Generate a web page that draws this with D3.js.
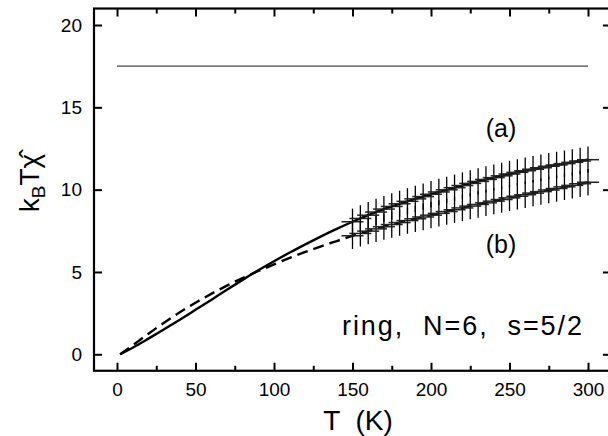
<!DOCTYPE html>
<html>
<head>
<meta charset="utf-8">
<script src="https://cdn.jsdelivr.net/npm/d3@7"></script>
<style>
  body { margin: 0; background: #fff; }
  text { font-family: "Liberation Sans", Arial, sans-serif; fill: #000; }
</style>
</head>
<body>
<script>
"use strict";

// curve temperatures and values
var curveT = [2, 10, 20, 30, 40, 50, 60, 70, 80, 90, 100, 110, 120, 130, 140, 150,
  160, 170, 180, 190, 200, 210, 220, 230, 240, 250, 260, 270, 280, 290, 300];
var solidVals = [0, 0.4, 0.95, 1.52, 2.1, 2.7, 3.3, 3.92, 4.52, 5.1, 5.65, 6.18, 6.68, 7.16, 7.62, 8.05,
  8.45, 8.82, 9.14, 9.44, 9.72, 9.99, 10.25, 10.5, 10.73, 10.95, 11.15, 11.33, 11.5, 11.66, 11.82];
var dashedVals = [0, 0.55, 1.25, 1.92, 2.55, 3.13, 3.67, 4.17, 4.63, 5.06, 5.46, 5.86, 6.22, 6.56, 6.88, 7.2,
  7.48, 7.75, 8.0, 8.23, 8.45, 8.67, 8.89, 9.1, 9.3, 9.5, 9.69, 9.88, 10.07, 10.26, 10.45];

// data points with error bars
var pointT = [150, 155, 160, 165, 170, 175, 180, 185, 190, 195, 200, 205, 210, 215, 220, 225,
  230, 235, 240, 245, 250, 255, 260, 265, 270, 275, 280, 285, 290, 295, 300];
var seriesA = [8.05, 8.25, 8.45, 8.64, 8.82, 8.98, 9.14, 9.29, 9.44, 9.58, 9.72, 9.86, 9.99, 10.12, 10.25, 10.38,
  10.5, 10.62, 10.73, 10.84, 10.95, 11.05, 11.15, 11.24, 11.33, 11.42, 11.5, 11.58, 11.66, 11.74, 11.82];
var seriesB = [7.2, 7.34, 7.48, 7.62, 7.75, 7.88, 8.0, 8.12, 8.23, 8.34, 8.45, 8.56, 8.67, 8.78, 8.89, 9.0,
  9.1, 9.2, 9.3, 9.4, 9.5, 9.6, 9.69, 9.79, 9.88, 9.98, 10.07, 10.17, 10.26, 10.36, 10.45];
var errY = 0.8;
var errT = 7;

var limitValue = 17.5;
var limitRange = [0, 300];

var xMajor = [0, 50, 100, 150, 200, 250, 300];
var xMinor = [25, 75, 125, 175, 225, 275];
var yMajor = [0, 5, 10, 15, 20];

function init() {
  var w = 608;
  var h = 436;

  var x = d3.scaleLinear().domain([0, 300]).range([117, 588]);
  var y = d3.scaleLinear().domain([0, 20]).range([354.3, 25]);

  var x0 = x(-14.65), x1 = x(314.6);
  var y0 = y(-1.0), y1 = y(21.0);

  var svg = d3.select("body")
    .append("svg")
    .attr("width", w)
    .attr("height", h);

  // high temperature limit
  svg.append("line")
    .attr("x1", x(limitRange[0]))
    .attr("x2", x(limitRange[1]))
    .attr("y1", y(limitValue))
    .attr("y2", y(limitValue))
    .attr("stroke", "#444")
    .attr("stroke-width", 1.2);

  var line = d3.line()
    .x(function (d) { return x(d[0]); })
    .y(function (d) { return y(d[1]); })
    .curve(d3.curveMonotoneX);

  svg.append("path")
    .datum(d3.zip(curveT, solidVals))
    .attr("d", line)
    .attr("fill", "none")
    .attr("stroke", "#000")
    .attr("stroke-width", 2.4);

  svg.append("path")
    .datum(d3.zip(curveT, dashedVals))
    .attr("d", line)
    .attr("fill", "none")
    .attr("stroke", "#000")
    .attr("stroke-width", 2.4)
    .attr("stroke-dasharray", "11,6");

  // crosses: vertical error bars and horizontal bars
  [seriesA, seriesB].forEach(function (vals) {
    var pts = d3.zip(pointT, vals);
    var g = svg.append("g");
    g.selectAll(".v")
      .data(pts)
      .enter()
      .append("line")
      .attr("x1", function (d) { return x(d[0]); })
      .attr("x2", function (d) { return x(d[0]); })
      .attr("y1", function (d) { return y(d[1] - errY); })
      .attr("y2", function (d) { return y(d[1] + errY); })
      .attr("stroke", "#000")
      .attr("stroke-width", 1.3);
    g.selectAll(".h")
      .data(pts)
      .enter()
      .append("line")
      .attr("x1", function (d) { return x(d[0] - errT); })
      .attr("x2", function (d) { return x(d[0] + errT); })
      .attr("y1", function (d) { return y(d[1]); })
      .attr("y2", function (d) { return y(d[1]); })
      .attr("stroke", "#222")
      .attr("stroke-width", 1.5);
  });

  // axes with inward ticks on all sides
  function styleAxis(g) {
    g.select(".domain").remove();
    g.selectAll(".tick line").attr("stroke", "#000").attr("stroke-width", 2);
    g.selectAll("text").attr("font-size", "19px").attr("fill", "#000")
      .attr("font-family", "'Liberation Sans', Arial, sans-serif");
  }

  svg.append("g")
    .attr("transform", "translate(0," + y0 + ")")
    .call(d3.axisBottom(x).tickValues(xMajor).tickSize(-8).tickPadding(12).tickFormat(d3.format("d")))
    .call(styleAxis);
  svg.append("g")
    .attr("transform", "translate(0," + y0 + ")")
    .call(d3.axisBottom(x).tickValues(xMinor).tickSize(-5).tickFormat(""))
    .call(styleAxis);
  svg.append("g")
    .attr("transform", "translate(0," + y1 + ")")
    .call(d3.axisTop(x).tickValues(xMajor).tickSize(-8).tickFormat(""))
    .call(styleAxis);
  svg.append("g")
    .attr("transform", "translate(0," + y1 + ")")
    .call(d3.axisTop(x).tickValues(xMinor).tickSize(-5).tickFormat(""))
    .call(styleAxis);
  svg.append("g")
    .attr("transform", "translate(" + x0 + ",0)")
    .call(d3.axisLeft(y).tickValues(yMajor).tickSize(-8).tickPadding(12).tickFormat(d3.format("d")))
    .call(styleAxis);
  svg.append("g")
    .attr("transform", "translate(" + x1 + ",0)")
    .call(d3.axisRight(y).tickValues(yMajor).tickSize(-8).tickFormat(""))
    .call(styleAxis);

  // frame
  svg.append("rect")
    .attr("x", x0)
    .attr("y", y1)
    .attr("width", x1 - x0)
    .attr("height", y0 - y1)
    .attr("fill", "none")
    .attr("stroke", "#000")
    .attr("stroke-width", 2.2);

  // axis titles
  svg.append("text")
    .attr("x", 358)
    .attr("y", 430)
    .attr("text-anchor", "middle")
    .attr("font-size", "28px")
    .attr("xml:space", "preserve")
    .text("T  (K)");

  var yt = svg.append("text")
    .attr("transform", "translate(39,183) rotate(-90)")
    .attr("text-anchor", "middle")
    .attr("font-size", "28px");
  yt.append("tspan").text("k");
  yt.append("tspan").attr("font-size", "19px").attr("dy", 6).text("B");
  yt.append("tspan").attr("dy", -6).text("T");
  yt.append("tspan").text("\u03C7\u0302");

  // labels
  svg.append("text")
    .attr("x", 501).attr("y", 137)
    .attr("text-anchor", "middle")
    .attr("font-size", "25px")
    .text("(a)");
  svg.append("text")
    .attr("x", 501).attr("y", 253)
    .attr("text-anchor", "middle")
    .attr("font-size", "25px")
    .text("(b)");
  svg.append("text")
    .attr("x", 342).attr("y", 335)
    .attr("font-size", "27px")
    .attr("xml:space", "preserve")
    .attr("textLength", 240)
    .attr("lengthAdjust", "spacing")
    .text("ring,  N=6,  s=5/2");
}

window.onload = init;
</script>
</body>
</html>
